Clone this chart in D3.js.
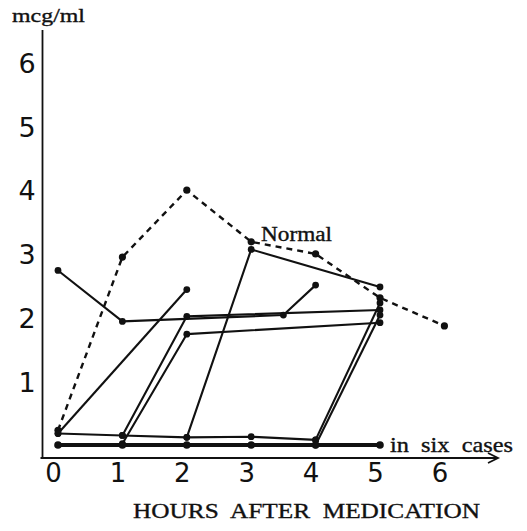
<!DOCTYPE html>
<html>
<head>
<meta charset="utf-8">
<script src="https://cdn.jsdelivr.net/npm/d3@7"></script>
<style>
  html, body { margin: 0; padding: 0; background: #fff; }
  svg { display: block; }
</style>
</head>
<body>
<svg id="chart" width="527" height="531"></svg>
<script>
// ---- data ----
const xTicks = [0, 1, 2, 3, 4, 5, 6];
const yTicks = [1, 2, 3, 4, 5, 6];
const yUnit = "mcg/ml";
const xTitle = "HOURS  AFTER  MEDICATION";
const normalLabel = "Normal";
const baselineLabel = "in  six  cases";

// Normal subject (dashed)
const normalHours = [0, 1, 2, 3, 4, 5, 6];
const normalValues = [0.23, 2.95, 4.0, 3.19, 3.0, 2.31, 1.87];

// Individual cases: [hour, mcg/ml]
const caseLow = [[0, 0.18], [1, 0.15], [2, 0.12], [3, 0.13], [4, 0.08]];
const caseA = [[2, 0.12], [3, 3.07], [5, 2.48]];
const caseB = [[0, 0.18], [2, 2.44]];
const caseC = [[0, 2.74], [1, 1.94], [3.5, 2.04], [4, 2.51]];
const caseD = [[1, 0.15], [2, 2.02], [5, 2.12]];
const caseE = [[1, 0.02], [2, 1.74], [5, 1.92]];
const caseF = [[4, 0.08], [5, 2.23]];
const caseG = [[4, 0.0], [5, 2.04]];
// Six cases staying at zero
const zeroCases = [[0, 0], [1, 0], [2, 0], [3, 0], [4, 0], [5, 0]];

const thinCases = [caseLow, caseA, caseB, caseC, caseD, caseE, caseF, caseG];

// ---- drawing ----
const svg = d3.select("#chart");
const x = d3.scaleLinear().domain([0, 6]).range([58, 444.4]);
const y = d3.scaleLinear().domain([0, 6]).range([445, 62.8]);

const axisX0 = 42.5;     // y-axis position
const axisY0 = 458;      // x-axis position
const ink = "#111";

// axis lines
svg.append("line")
  .attr("x1", axisX0).attr("x2", axisX0)
  .attr("y1", 30).attr("y2", axisY0)
  .attr("stroke", ink).attr("stroke-width", 1.8);
svg.append("line")
  .attr("x1", axisX0 - 2).attr("x2", 498)
  .attr("y1", axisY0).attr("y2", axisY0)
  .attr("stroke", ink).attr("stroke-width", 1.8);
svg.append("path")
  .attr("d", `M488,${axisY0 - 5} L498,${axisY0} L488,${axisY0 + 5}`)
  .attr("fill", "none").attr("stroke", ink).attr("stroke-width", 1.8);

// y tick labels
const yAxis = d3.axisLeft(y).tickValues(yTicks).tickSize(0).tickPadding(0)
  .tickFormat(d3.format("d"));
const gy = svg.append("g").attr("transform", `translate(27,0)`).call(yAxis);
gy.select(".domain").remove();
gy.selectAll("text")
  .attr("text-anchor", "middle")
  .attr("x", 0)
  .attr("dy", "0.36em")
  .attr("font-family", "DejaVu Sans")
  .attr("font-size", 27)
  .attr("fill", ink);

// x tick labels
const xAxis = d3.axisBottom(x).tickValues(xTicks).tickSize(0).tickPadding(0)
  .tickFormat(d3.format("d"));
const gx = svg.append("g").attr("transform", `translate(-5,${axisY0 + 4})`).call(xAxis);
gx.select(".domain").remove();
gx.selectAll("text")
  .attr("y", 0)
  .attr("dy", "0.78em")
  .attr("font-family", "DejaVu Sans")
  .attr("font-size", 26)
  .attr("fill", ink);

// serif labels
function serifText(px, py, len, size, str) {
  return svg.append("text")
    .attr("x", px).attr("y", py)
    .attr("textLength", len).attr("lengthAdjust", "spacingAndGlyphs")
    .attr("font-family", "Liberation Serif").attr("font-size", size)
    .attr("fill", ink).attr("stroke", ink).attr("stroke-width", 0.35)
    .style("white-space", "pre").text(str);
}
serifText(12, 22, 73, 19, yUnit);
serifText(133, 518, 347, 22, xTitle);

const line = d3.line().x(d => x(d[0])).y(d => y(d[1]));

// normal dashed curve
const normalPts = normalHours.map((h, i) => [h, normalValues[i]]);
svg.append("path").datum(normalPts)
  .attr("d", line).attr("fill", "none")
  .attr("stroke", ink).attr("stroke-width", 2.4)
  .attr("stroke-dasharray", "6,5");
svg.append("g").selectAll("circle").data(normalPts).join("circle")
  .attr("cx", d => x(d[0])).attr("cy", d => y(d[1])).attr("r", 3.6).attr("fill", ink);

serifText(261, 241, 71, 20, normalLabel);

// thin solid cases
const gc = svg.append("g");
thinCases.forEach(c => {
  gc.append("path").datum(c)
    .attr("d", line).attr("fill", "none")
    .attr("stroke", ink).attr("stroke-width", 2.1)
    .attr("stroke-linejoin", "round");
  gc.append("g").selectAll("circle").data(c).join("circle")
    .attr("cx", d => x(d[0])).attr("cy", d => y(d[1])).attr("r", 3.4).attr("fill", ink);
});

// bold zero line (six cases)
svg.append("path").datum(zeroCases)
  .attr("d", line).attr("fill", "none")
  .attr("stroke", ink).attr("stroke-width", 4.2);
svg.append("g").selectAll("circle").data(zeroCases).join("circle")
  .attr("cx", d => x(d[0])).attr("cy", d => y(d[1])).attr("r", 3.8).attr("fill", ink);

serifText(390, 452, 123, 21, baselineLabel);
</script>
</body>
</html>
